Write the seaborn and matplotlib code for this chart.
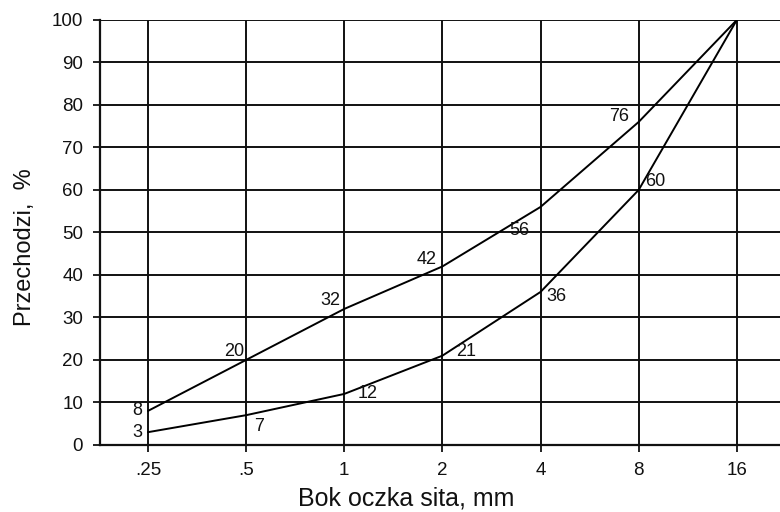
import matplotlib
matplotlib.use("Agg")
import matplotlib.pyplot as plt
import numpy as np
import pandas as pd
import seaborn as sns

# sieve sizes (mm), equally spaced on a log2 scale
sieve_labels = [".25", ".5", "1", "2", "4", "8", "16"]
upper_pass = [8, 20, 32, 42, 56, 76, 100]
lower_pass = [3, 7, 12, 21, 36, 60, 100]

# label offsets in points (dx, dy, ha) for each annotated point
upper_offsets = [(-4, 0, "right"), (-1, 6, "right"), (-3, 6, "right"), (-4, 5, "right"),
                 (-8, -17, "right"), (-7, 4, "right"), None]
lower_offsets = [(-4, 0, "right"), (6, -8, "left"), (10, 0, "left"), (10, 3, "left"),
                 (4, -3, "left"), (5, 6, "left"), None]

pos = np.arange(len(sieve_labels))
df = pd.DataFrame({
    "pos": np.concatenate([pos, pos]),
    "value": upper_pass + lower_pass,
    "curve": ["upper"] * len(pos) + ["lower"] * len(pos),
})

sns.set_style("white")
plt.rcParams["font.family"] = ["Liberation Sans", "DejaVu Sans"]

fig = plt.figure(figsize=(7.8, 5.12), dpi=100)
ax = fig.add_axes([0.128, 0.131, 0.872, 0.830])

sns.lineplot(data=df, x="pos", y="value", units="curve", estimator=None,
             color="black", linewidth=1.4, ax=ax, legend=False)

for vals, offs in ((upper_pass, upper_offsets), (lower_pass, lower_offsets)):
    for p, v, o in zip(pos, vals, offs):
        if o is None:
            continue
        dx, dy, ha = o
        ax.annotate(str(v), (p, v), xytext=(dx, dy), textcoords="offset points",
                    ha=ha, va="center", fontsize=13, color="#111111")

ax.set_xlim(-0.49, 6.44)
ax.set_ylim(0, 100)
ax.set_xticks(pos)
ax.set_xticklabels(sieve_labels)
ax.set_yticks(np.arange(0, 101, 10))
ax.grid(True, color="#111111", linewidth=1.4)
ax.set_axisbelow(True)

for s in ["top", "right"]:
    ax.spines[s].set_visible(False)
for s in ["left", "bottom"]:
    ax.spines[s].set_color("#111111")
    ax.spines[s].set_linewidth(1.6)

ax.tick_params(axis="both", direction="out", length=5, width=1.3, color="#111111",
               labelsize=13.5, labelcolor="#111111", pad=7, left=True, bottom=True)
ax.set_xlabel("Bok oczka sita, mm", fontsize=18, color="#111111")
ax.set_ylabel("Przechodzi,  %", fontsize=17, color="#111111")
ax.xaxis.set_label_coords(0.45, -0.097)
ax.yaxis.set_label_coords(-0.094, 0.466)

fig.savefig("out.png", dpi=100)
